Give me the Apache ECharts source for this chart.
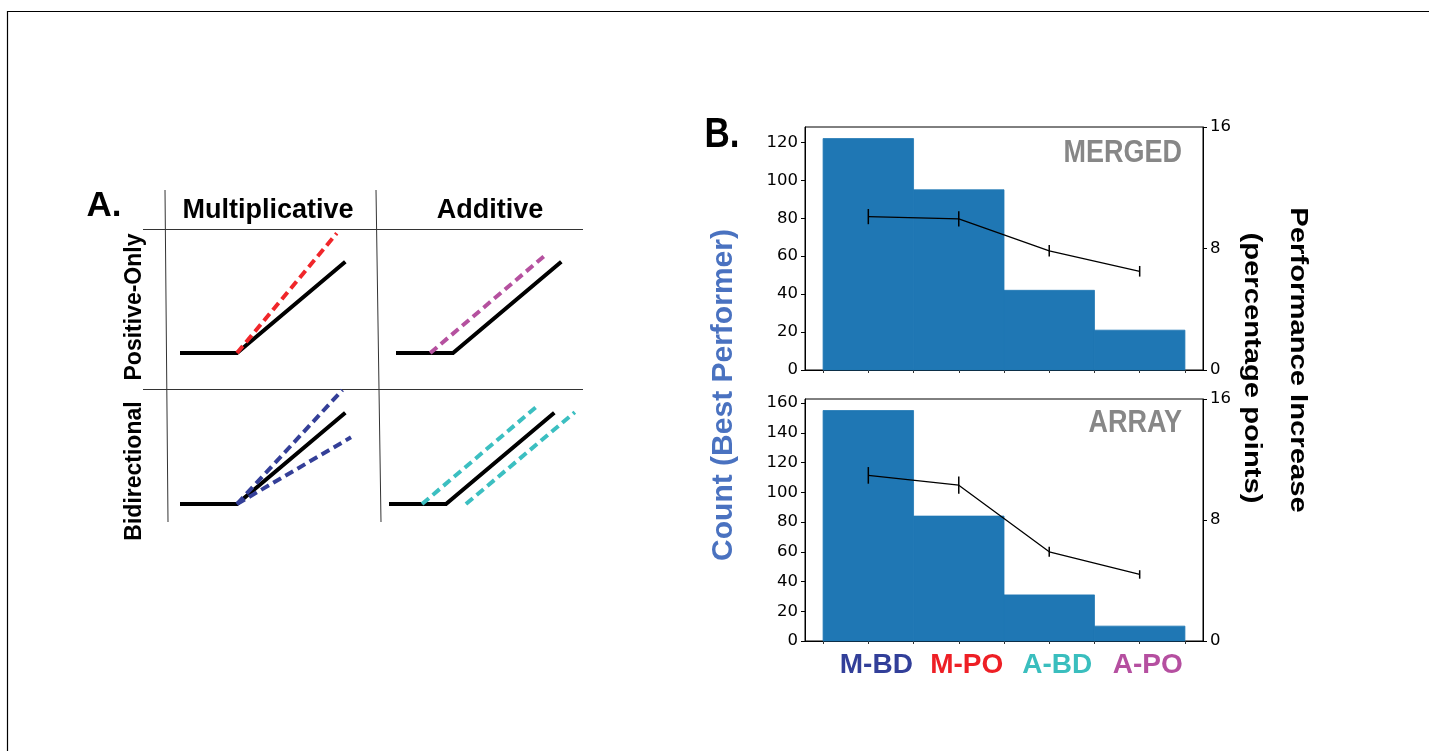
<!DOCTYPE html>
<html>
<head>
<meta charset="utf-8">
<script src="https://cdn.jsdelivr.net/npm/echarts@6/dist/echarts.min.js"></script>
<style>
html,body{margin:0;padding:0;background:#fff;}
#chart{width:1429px;height:751px;}
</style>
</head>
<body>
<div id="chart"></div>
<script>
// ---------- data ----------
const categories = ['M-BD', 'M-PO', 'A-BD', 'A-PO'];
const categoryColors = ['#323F99', '#EE1F25', '#3ABEBE', '#B54FA0'];
const mergedCounts = [122, 95, 42, 21];
const mergedPerf = [10.1, 9.95, 7.85, 6.5];
const mergedErr = [0.5, 0.5, 0.38, 0.35];
const arrayCounts = [155, 84, 31, 10];
const arrayPerf = [10.95, 10.3, 5.9, 4.4];
const arrayErr = [0.55, 0.57, 0.33, 0.28];
const countTicksMerged = [0, 20, 40, 60, 80, 100, 120];
const countTicksArray = [0, 20, 40, 60, 80, 100, 120, 140, 160];
const perfTicks = [0, 8, 16];
const xMinorTicks = [-0.5, 0, 0.5, 1, 1.5, 2, 2.5, 3, 3.5];

// schematic (panel A), abstract units relative to hinge point
const hinge = [[-1, 0], [0, 0], [1.9, 1.6]];
const multPO = [[0, 0], [1.75, 2.1]];
const addPO = [[-0.4, 0], [1.6, 1.7]];
const multBDup = [[0, 0], [1.85, 2.0]];
const multBDdown = [[0, 0], [2.0, 1.17]];
const addBDup = [[-0.42, 0], [1.58, 1.7]];
const addBDdown = [[0.35, 0], [2.26, 1.61]];

const schemRed = '#F0262A', schemMagenta = '#B5519F', schemBlue = '#343F98', schemCyan = '#3CBFC1';
const barColor = '#1F77B4';

// ---------- helpers ----------
const chart = echarts.init(document.getElementById('chart'), null, {renderer: 'canvas'});
const boldFont = '"Liberation Sans", Arial, Helvetica, sans-serif';
const tickFont = '"DejaVu Sans", sans-serif';

const grids = [];
const xAxes = [];
const yAxes = [];
const series = [];

// panel A cells: 4 grids (unit = 57 px)
const cellW = 3.4 * 57, cellH = 2.2 * 57;
const cells = [
  {left: 180, bottom: 353},
  {left: 396, bottom: 353},
  {left: 180, bottom: 504},
  {left: 389, bottom: 504}
];
cells.forEach((c, i) => {
  grids.push({left: c.left, top: c.bottom - cellH, width: cellW, height: cellH, show: false});
  xAxes.push({type: 'value', gridIndex: i, min: -1, max: 2.4, show: false});
  yAxes.push({type: 'value', gridIndex: i, min: 0, max: 2.2, show: false});
});
function schemLine(idx, data, color, dashed, z) {
  series.push({
    type: 'line', xAxisIndex: idx, yAxisIndex: idx, data: data, symbol: 'none', silent: true,
    clip: false, z: z,
    lineStyle: {color: color, width: 4, type: dashed ? [9, 5] : 'solid', cap: 'butt', join: 'miter'}
  });
}
for (let i = 0; i < 4; i++) schemLine(i, hinge, '#000', false, 2);
schemLine(0, multPO, schemRed, true, 3);
schemLine(1, addPO, schemMagenta, true, 3);
schemLine(2, multBDup, schemBlue, true, 3);
schemLine(2, multBDdown, schemBlue, true, 3);
schemLine(3, addBDup, schemCyan, true, 3);
schemLine(3, addBDdown, schemCyan, true, 3);

// panel B: two grids
const panels = [
  {top: 127, bottom: 370, counts: mergedCounts, perf: mergedPerf, err: mergedErr, ticks: countTicksMerged, showX: false},
  {top: 399, bottom: 641, counts: arrayCounts, perf: arrayPerf, err: arrayErr, ticks: countTicksArray, showX: true}
];
panels.forEach((p, k) => {
  const g = 4 + k;
  grids.push({left: 805, top: p.top, width: 398, height: p.bottom - p.top, show: true,
    borderColor: '#000', borderWidth: 1, backgroundColor: 'transparent'});
  const richStyles = {};
  categories.forEach((c, i) => {
    richStyles['c' + i] = {color: categoryColors[i], fontSize: 28, fontWeight: 'bold', fontFamily: boldFont};
  });
  xAxes.push({
    type: 'value', gridIndex: g, min: -0.7, max: 3.7,
    axisLine: {show: true, onZero: false, lineStyle: {color: '#000', width: 1}},
    axisTick: {show: true, customValues: xMinorTicks, length: 3, lineStyle: {color: '#333', width: 1}},
    axisLabel: p.showX ? {
      show: true, customValues: [0, 1, 2, 3], margin: 10, padding: [0, 0, 0, 16],
      formatter: function (v) { const i = Math.round(v); return '{c' + i + '|' + categories[i] + '}'; },
      rich: richStyles
    } : {show: false},
    splitLine: {show: false}
  });
  const maxCount = Math.max.apply(null, p.counts) * 1.05;
  yAxes.push({
    type: 'value', gridIndex: g, position: 'left', min: 0, max: maxCount,
    axisLine: {show: true, onZero: false, lineStyle: {color: '#000', width: 1}},
    axisTick: {show: true, customValues: p.ticks, length: 4, lineStyle: {color: '#000'}},
    axisLabel: {show: true, customValues: p.ticks, fontFamily: tickFont, fontSize: 16.5, color: '#000', margin: 7},
    splitLine: {show: false}
  });
  yAxes.push({
    type: 'value', gridIndex: g, position: 'right', min: 0, max: 16,
    axisLine: {show: true, onZero: false, lineStyle: {color: '#000', width: 1}},
    axisTick: {show: true, customValues: perfTicks, length: 4, lineStyle: {color: '#000'}},
    axisLabel: {show: true, customValues: perfTicks, fontFamily: tickFont, fontSize: 16.5, color: '#000', margin: 7},
    splitLine: {show: false}
  });
  const yLeft = 4 + 2 * k, yRight = 5 + 2 * k;
  // bars
  series.push({
    type: 'custom', xAxisIndex: g, yAxisIndex: yLeft, silent: true, z: 2,
    data: p.counts.map((v, i) => [i, v]),
    renderItem: function (params, api) {
      const x = api.value(0), v = api.value(1);
      const a = api.coord([x - 0.5, v]);
      const b = api.coord([x + 0.5, 0]);
      return {type: 'rect', shape: {x: a[0], y: a[1], width: b[0] - a[0], height: b[1] - a[1]},
        style: {fill: barColor, stroke: barColor, lineWidth: 0.8}};
    }
  });
  // performance line
  series.push({
    type: 'line', xAxisIndex: g, yAxisIndex: yRight, silent: true, z: 4,
    data: p.perf.map((v, i) => [i, v]), symbol: 'none',
    lineStyle: {color: '#000', width: 1.3}
  });
  // error bars
  series.push({
    type: 'custom', xAxisIndex: g, yAxisIndex: yRight, silent: true, z: 5,
    data: p.perf.map((v, i) => [i, v, p.err[i]]),
    renderItem: function (params, api) {
      const x = api.value(0), v = api.value(1), e = api.value(2);
      const a = api.coord([x, v - e]);
      const b = api.coord([x, v + e]);
      return {type: 'line', shape: {x1: a[0], y1: a[1], x2: b[0], y2: b[1]},
        style: {stroke: '#000', lineWidth: 1.5}};
    }
  });
});

// ---------- decorative graphics and texts ----------
const graphic = [
  {type: 'line', shape: {x1: 7, y1: 11.5, x2: 1429, y2: 11.5}, style: {stroke: '#000', lineWidth: 1.2}, silent: true},
  {type: 'line', shape: {x1: 7.5, y1: 11, x2: 7.5, y2: 751}, style: {stroke: '#000', lineWidth: 1.2}, silent: true},
  {type: 'line', shape: {x1: 165, y1: 190, x2: 168, y2: 522}, style: {stroke: '#333', lineWidth: 1}, silent: true},
  {type: 'line', shape: {x1: 376, y1: 190, x2: 381, y2: 522}, style: {stroke: '#333', lineWidth: 1}, silent: true},
  {type: 'line', shape: {x1: 143, y1: 229.5, x2: 583, y2: 229.5}, style: {stroke: '#333', lineWidth: 1}, silent: true},
  {type: 'line', shape: {x1: 143, y1: 389.5, x2: 583, y2: 389.5}, style: {stroke: '#333', lineWidth: 1}, silent: true},
  {type: 'text', x: 104, y: 206, style: {text: 'A.', font: 'bold 35px ' + boldFont, fill: '#000', align: 'center', verticalAlign: 'middle'}},
  {type: 'text', x: 268, y: 211, style: {text: 'Multiplicative', font: 'bold 27px ' + boldFont, fill: '#000', align: 'center', verticalAlign: 'middle'}},
  {type: 'text', x: 490, y: 211, style: {text: 'Additive', font: 'bold 27px ' + boldFont, fill: '#000', align: 'center', verticalAlign: 'middle'}},
  {type: 'text', x: 135, y: 307, rotation: Math.PI / 2, style: {text: 'Positive-Only', font: 'bold 23px ' + boldFont, fill: '#000', align: 'center', verticalAlign: 'middle'}},
  {type: 'text', x: 135, y: 471, rotation: Math.PI / 2, style: {text: 'Bidirectional', font: 'bold 23px ' + boldFont, fill: '#000', align: 'center', verticalAlign: 'middle'}},
  {type: 'text', x: 722, y: 135, scaleY: 1.2, style: {text: 'B.', font: 'bold 35px ' + boldFont, fill: '#000', align: 'center', verticalAlign: 'middle'}},
  {type: 'text', x: 1182, y: 154, scaleY: 1.14, z: 10, style: {text: 'MERGED', font: 'bold 27px ' + boldFont, fill: '#878787', align: 'right', verticalAlign: 'middle'}},
  {type: 'text', x: 1182, y: 424, scaleY: 1.14, z: 10, style: {text: 'ARRAY', font: 'bold 27px ' + boldFont, fill: '#878787', align: 'right', verticalAlign: 'middle'}},
  {type: 'text', x: 724, y: 395, rotation: Math.PI / 2, scaleX: 1.035, style: {text: 'Count (Best Performer)', font: 'bold 29px ' + boldFont, fill: '#4A72C0', align: 'center', verticalAlign: 'middle'}},
  {type: 'text', x: 1297, y: 360, rotation: -Math.PI / 2, scaleX: 1.27, style: {text: 'Performance Increase', font: 'bold 23px ' + boldFont, fill: '#000', align: 'center', verticalAlign: 'middle'}},
  {type: 'text', x: 1251, y: 368, rotation: -Math.PI / 2, scaleX: 1.27, style: {text: '(percentage points)', font: 'bold 23px ' + boldFont, fill: '#000', align: 'center', verticalAlign: 'middle'}}
];

chart.setOption({
  animation: false,
  backgroundColor: '#fff',
  grid: grids,
  xAxis: xAxes,
  yAxis: yAxes,
  series: series,
  graphic: graphic
});
</script>
</body>
</html>
